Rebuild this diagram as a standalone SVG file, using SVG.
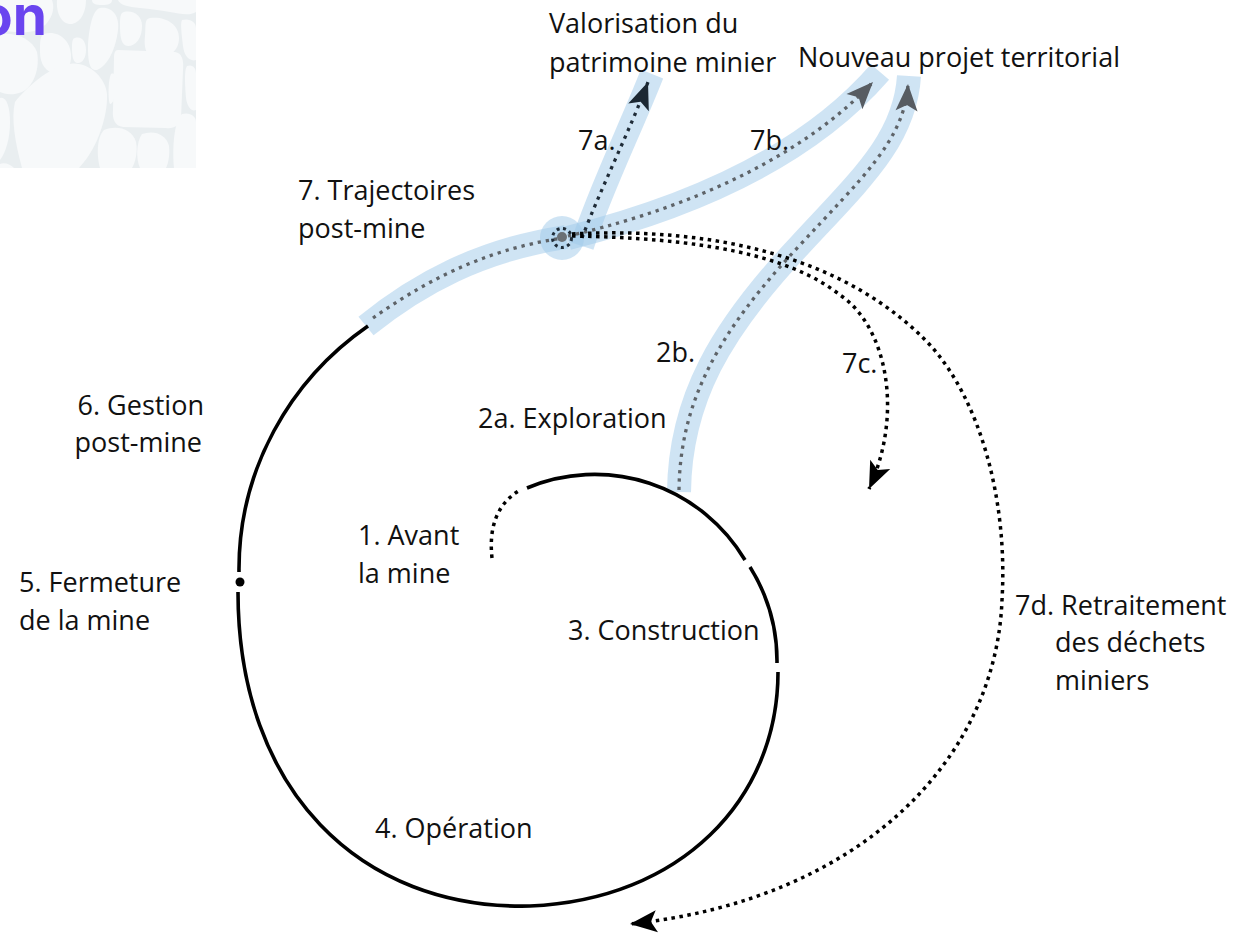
<svg xmlns="http://www.w3.org/2000/svg" width="1237" height="934" viewBox="0 0 1237 934">
<style>
.lbl{font-family:"Open Sans","Liberation Sans",sans-serif;font-size:27px;fill:#111}
.band{fill:none;stroke:#9fc9ea;stroke-opacity:0.5;stroke-width:24;stroke-linecap:butt}
.solid{fill:none;stroke:#000;stroke-width:3.6}
.dotk{fill:none;stroke:#000;stroke-width:3.5;stroke-dasharray:3.5 4.5}
.dotg{fill:none;stroke:#5e6368;stroke-width:3.3;stroke-dasharray:3.3 5}
.dotn{fill:none;stroke:#1e2b37;stroke-width:3.3;stroke-dasharray:3.3 5}
.peb{fill:#f7f9fa;stroke:none}
</style>
<defs>
<marker id="ak" markerUnits="userSpaceOnUse" orient="auto" overflow="visible" markerWidth="30" markerHeight="30"><path d="M0,0 L-27,-11 L-21,0 L-27,11 Z" fill="#000"/></marker>
<marker id="an" markerUnits="userSpaceOnUse" orient="auto" overflow="visible" markerWidth="30" markerHeight="30"><path d="M0,0 L-27,-11 L-21,0 L-27,11 Z" fill="#1c2833"/></marker>
<marker id="ag" markerUnits="userSpaceOnUse" orient="auto" overflow="visible" markerWidth="30" markerHeight="30"><path d="M0,0 L-27,-11 L-21,0 L-27,11 Z" fill="#575c62"/></marker>
</defs>
<rect width="1237" height="934" fill="#fff"/>
<g id="background">
<rect x="0" y="0" width="196" height="168" fill="#e9eef0"/>
<path class="peb" d="M0,0 L52,0 C56,10 50,24 38,30 C26,34 10,32 0,30 Z"/>
<path class="peb" d="M0,34 C14,32 32,38 37,52 C40,68 34,86 22,92 C12,96 4,94 0,92 Z"/>
<path class="peb" d="M44,34 C58,30 70,40 71,54 C72,66 66,73 56,73 C46,73 40,64 40,52 C40,42 40,36 44,34 Z"/>
<path class="peb" d="M75,38 C82,36 86,42 86,50 C86,58 82,64 77,63 C72,62 72,52 72,46 C72,41 73,38 75,38 Z"/>
<path class="peb" d="M100,8 C112,6 120,16 118,30 C116,48 108,66 97,70 C89,71 88,60 88,46 C89,30 92,10 100,8 Z"/>
<path class="peb" d="M57,0 L86,0 C86,10 82,22 72,24 C62,25 56,14 57,0 Z"/>
<path class="peb" d="M92,0 L112,0 C112,4 108,5 102,5 C96,5 92,4 92,0 Z"/>
<path class="peb" d="M124,12 C134,10 142,16 142,26 C142,38 136,46 128,46 C121,46 120,36 120,26 C120,18 120,13 124,12 Z"/>
<path class="peb" d="M150,18 C165,16 179,24 179,38 C179,52 168,58 155,57 C145,56 144,46 145,36 C146,26 144,19 150,18 Z"/>
<path class="peb" d="M118,0 L196,0 L196,12 C190,16 180,14 170,12 C160,10 150,9 140,8 C128,7 120,5 118,0 Z"/>
<path class="peb" d="M182,20 C190,18 196,22 196,28 L196,60 C190,62 184,56 183,46 C182,36 180,24 182,20 Z"/>
<path class="peb" d="M68,64 C88,60 106,78 107,94 C108,118 96,148 84,162 L79,168 L22,168 C15,142 11,118 15,102 C26,88 48,68 68,64 Z"/>
<path class="peb" d="M118,50 L175,52 C182,53 184,60 183,70 L181,118 C180,126 173,129 166,128 L123,127 C115,126 112,119 113,110 L114,58 C114,53 115,50 118,50 Z"/>
<path class="peb" d="M187,66 C193,64 196,68 196,74 L196,110 C191,112 187,106 186,98 C185,86 184,70 187,66 Z"/>
<path class="peb" d="M104,130 C116,125 132,128 136,142 C138,152 135,163 132,168 L100,168 C97,158 96,138 104,130 Z"/>
<path class="peb" d="M142,134 C154,130 166,134 169,146 C170,156 168,164 166,168 L140,168 C136,160 136,142 142,134 Z"/>
<path class="peb" d="M182,114 C190,112 196,116 196,122 L196,168 L174,168 C172,150 174,120 182,114 Z"/>
<path class="peb" d="M0,98 C6,96 10,106 10,122 C10,138 6,152 0,160 Z"/>
<path class="peb" d="M0,164 C4,162 10,164 14,168 L0,168 Z"/>
<path class="peb" d="M111,74 C116,72 118,78 117,86 C116,96 113,104 110,104 C108,100 108,80 111,74 Z"/>
<text x="47" y="35" text-anchor="end" font-family="Inter,'Liberation Sans',sans-serif" font-weight="700" font-size="55" fill="#6a45ef">on</text>
</g>
<g id="bands">
<path class="band" d="M366,326 C418,284 480,250 566,237"/>
<path class="band" d="M568,238 C660,215 795,170 880,72"/>
<path class="band" d="M582,246 C600,190 630,130 652,74"/>
<path class="band" d="M679,492 C680,400 720,330 800,245 C860,180 905,140 909,76"/>
<circle cx="562" cy="238" r="22" fill="#9fc9ea" fill-opacity="0.5"/>
</g>
<g id="connectors">
<path class="dotk" d="M492,558 C489,530 495,505 520,490"/>
<path class="solid" d="M527,488 A175,175 0 0,1 745,560"/>
<path class="solid" d="M750,567 A178,178 0 0,1 777,663"/>
<path class="solid" d="M778,672 C778,800 680,900 530,906 C360,910 238,790 238,592"/>
<path class="solid" d="M239,572 C238,470 290,380 368,326"/>
<circle cx="240" cy="582" r="4.5" fill="#000"/>
<path class="dotg" d="M373,318 C420,285 480,250 563,238"/>
<path class="dotg" d="M568,236 C660,215 790,170 873,82" marker-end="url(#ag)"/>
<path class="dotn" d="M582,238 C600,190 630,130 648,82" marker-end="url(#an)"/>
<path class="dotg" d="M679,490 C680,400 720,330 800,245 C860,180 905,140 908,84" marker-end="url(#ag)"/>
<path class="dotk" d="M572,236 C700,238 790,255 840,295 C885,325 905,410 869,489" marker-end="url(#ak)"/>
<path class="dotk" d="M572,234 C720,226 850,260 930,345 C980,400 1008,500 1002,600 C996,760 860,900 630,924" marker-end="url(#ak)"/>
</g>
<g id="hub">
<circle cx="562" cy="238" r="9.5" fill="none" stroke="#1e2b37" stroke-width="3" stroke-dasharray="3 3.5"/>
<circle cx="562" cy="237" r="5" fill="#6b7075"/>
</g>
<g id="labels">
<text class="lbl" x="549" y="33">Valorisation du</text>
<text class="lbl" x="549" y="72">patrimoine minier</text>
<text class="lbl" x="798" y="67">Nouveau projet territorial</text>
<text class="lbl" x="578" y="150">7a.</text>
<text class="lbl" x="750" y="150">7b.</text>
<text class="lbl" x="298" y="200">7. Trajectoires</text>
<text class="lbl" x="298" y="238">post-mine</text>
<text class="lbl" x="656" y="362">2b.</text>
<text class="lbl" x="842" y="373">7c.</text>
<text class="lbl" x="204" y="415" text-anchor="end">6. Gestion</text>
<text class="lbl" x="202" y="452" text-anchor="end">post-mine</text>
<text class="lbl" x="478" y="428">2a. Exploration</text>
<text class="lbl" x="358" y="545">1. Avant</text>
<text class="lbl" x="358" y="583">la mine</text>
<text class="lbl" x="19" y="592">5. Fermeture</text>
<text class="lbl" x="19" y="630">de la mine</text>
<text class="lbl" x="568" y="640">3. Construction</text>
<text class="lbl" x="1015" y="615">7d. Retraitement</text>
<text class="lbl" x="1055" y="652">des déchets</text>
<text class="lbl" x="1055" y="690">miniers</text>
<text class="lbl" x="375" y="838">4. Opération</text>
</g>
</svg>
